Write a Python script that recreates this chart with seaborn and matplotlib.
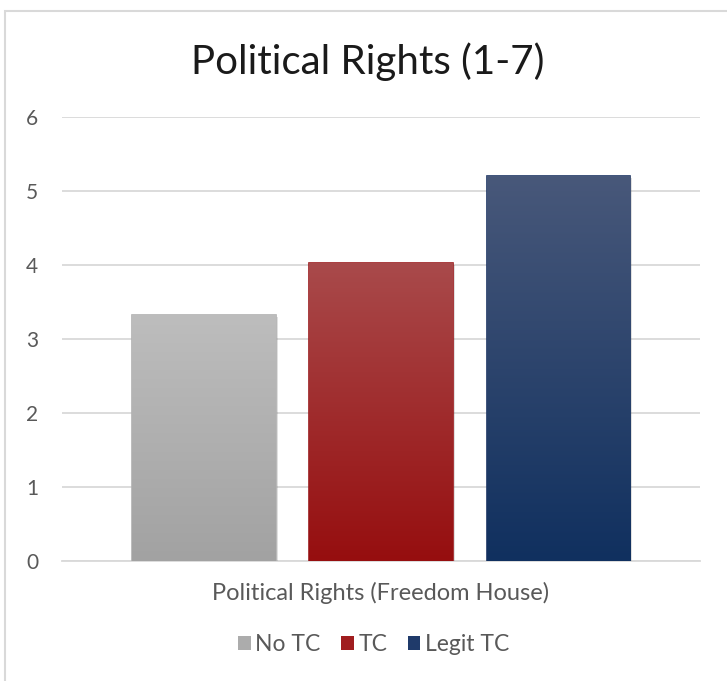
import numpy as np
import pandas as pd
import matplotlib
matplotlib.use("Agg")
import matplotlib.pyplot as plt
import seaborn as sns
from matplotlib.colors import LinearSegmentedColormap
from matplotlib.patches import Rectangle, Patch
from matplotlib import patheffects as pe

# data
groups = ["No TC", "TC", "Legit TC"]
values = [3.32, 4.03, 5.20]
category = "Political Rights (Freedom House)"

# gradient ends (top, bottom) per group
top_colors = ["#bdbdbd", "#a94a4b", "#48587a"]
bottom_colors = ["#a2a2a2", "#960e0f", "#10305f"]
mid_colors = ["#acacac", "#a01d1f", "#1f3a6a"]
edge_colors = ["#b0b0b0", "#9b1b1e", "#1c3563"]

df = pd.DataFrame({"category": [category] * len(groups), "group": groups, "value": values})

sns.set_style("white")
plt.rcParams["font.family"] = ["Lato", "DejaVu Sans"]

fig = plt.figure(figsize=(7.27, 6.81), dpi=100)
ax = fig.add_axes([0.0853, 0.1762, 0.8777, 0.652])

sns.barplot(data=df, x="category", y="value", hue="group", hue_order=groups,
            palette=mid_colors, width=0.834, gap=0.19, legend=False, ax=ax,
            zorder=3)

# paint vertical gradients into each bar
for patch, top, bot, edge in zip(ax.patches, top_colors, bottom_colors, edge_colors):
    x0, y0 = patch.get_x(), patch.get_y()
    w, h = patch.get_width(), patch.get_height()
    cmap = LinearSegmentedColormap.from_list("g", [bot, top])
    grad = np.linspace(0, 1, 256).reshape(-1, 1)
    patch.set_edgecolor(edge)
    patch.set_linewidth(1.2)
    patch.set_path_effects([pe.SimplePatchShadow(offset=(1.5, -1.5), alpha=0.18, shadow_rgbFace="#555555"), pe.Normal()])
    im = ax.imshow(grad, cmap=cmap, origin="lower", aspect="auto",
                   extent=[x0, x0 + w, y0, y0 + h], zorder=3.5)
    im.set_clip_path(patch)

ax.set_xlim(-0.5, 0.5)
ax.set_ylim(0, 6)
ax.set_yticks(range(0, 7))
ax.yaxis.grid(True, color="#d9d9d9", linewidth=1.3, zorder=0)
ax.set_axisbelow(True)
for s in ["top", "right", "left"]:
    ax.spines[s].set_visible(False)
ax.spines["bottom"].set_color("#d9d9d9")
ax.spines["bottom"].set_linewidth(1.3)
ax.tick_params(axis="y", length=0, pad=17, labelsize=15, labelcolor="#595959")
ax.tick_params(axis="x", length=0, pad=15, labelsize=17, labelcolor="#595959")
ax.set_xlabel("")
ax.set_ylabel("")

fig.text(0.506, 0.909, "Political Rights (1-7)", ha="center", va="center",
         fontsize=29, color="#1a1a1a")

handles = [Patch(facecolor=c, edgecolor="none") for c in mid_colors]
fig.legend(handles, groups, loc="center", bbox_to_anchor=(0.514, 0.053), ncol=3,
           frameon=False, fontsize=16.5, labelcolor="#595959", handlelength=0.55,
           handleheight=0.55, handletextpad=0.2, columnspacing=0.9)

# light frame around the chart area
fig.patches.append(Rectangle((0.007, -0.01), 1.1, 0.994, transform=fig.transFigure,
                             fill=False, edgecolor="#d9d9d9", linewidth=1.5))

fig.savefig("out.png", dpi=100)
